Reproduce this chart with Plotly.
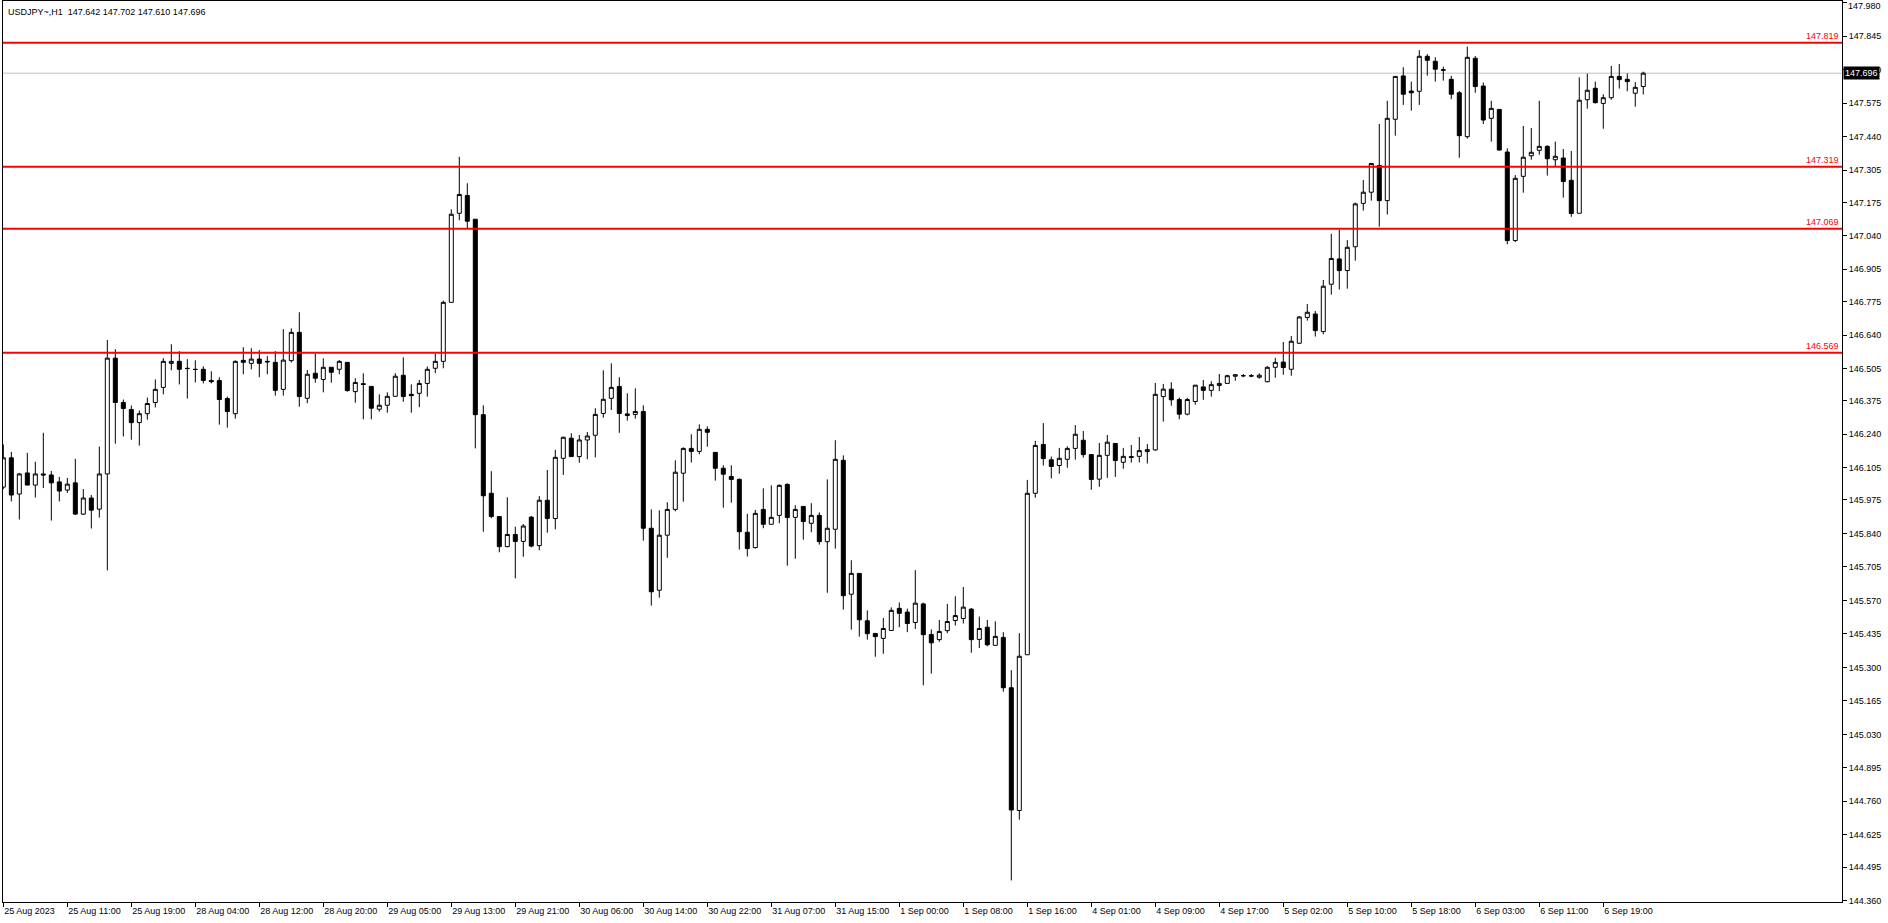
import plotly.graph_objects as go

# header of the chart window: symbol, period and OHLC of the last bar
chart_title = "USDJPY~,H1\u00a0\u00a0147.642 147.702 147.610 147.696"

# hourly bars, oldest first
opens = [
    146.027, 146.145, 145.999, 146.084, 146.035, 146.080, 146.076, 146.048, 146.015, 146.044,
    145.918, 145.983, 145.938, 146.080, 146.547, 146.368, 146.340, 146.287, 146.323, 146.368,
    146.429, 146.526, 146.534, 146.506, 146.502, 146.502, 146.457, 146.457, 146.384, 146.323,
    146.538, 146.526, 146.543, 146.534, 146.530, 146.421, 146.537, 146.651, 146.385, 146.486,
    146.461, 146.510, 146.502, 146.530, 146.412, 146.444, 146.433, 146.341, 146.357, 146.393,
    146.478, 146.401, 146.405, 146.445, 146.506, 146.534, 146.772, 147.131, 147.203, 147.107,
    146.319, 146.002, 145.908, 145.787, 145.836, 145.808, 145.906, 145.791, 145.974, 145.900,
    146.143, 146.224, 146.150, 146.217, 146.236, 146.324, 146.385, 146.433, 146.322, 146.320,
    146.332, 145.861, 145.611, 145.833, 145.937, 146.083, 146.183, 146.171, 146.260, 146.167,
    146.103, 146.070, 146.058, 145.845, 145.783, 145.937, 145.877, 145.913, 146.038, 145.905,
    145.949, 145.881, 145.913, 145.807, 145.857, 146.135, 145.595, 145.679, 145.488, 145.437,
    145.417, 145.449, 145.538, 145.523, 145.481, 145.556, 145.433, 145.412, 145.448, 145.489,
    145.497, 145.535, 145.413, 145.462, 145.389, 145.421, 145.218, 144.723, 145.351, 146.002,
    146.199, 146.137, 146.114, 146.139, 146.183, 146.216, 146.158, 146.059, 146.155, 146.203,
    146.127, 146.150, 146.151, 146.170, 146.177, 146.392, 146.422, 146.380, 146.321, 146.372,
    146.431, 146.417, 146.437, 146.445, 146.474, 146.476, 146.476, 146.470, 146.452, 146.510,
    146.531, 146.502, 146.607, 146.711, 146.725, 146.654, 146.845, 146.947, 146.900, 146.996,
    147.171, 147.216, 147.324, 147.182, 147.510, 147.685, 147.624, 147.623, 147.764, 147.744,
    147.710, 147.671, 147.617, 147.440, 147.756, 147.644, 147.514, 147.550, 147.378, 147.021,
    147.280, 147.363, 147.385, 147.401, 147.347, 147.354, 147.264, 147.131, 147.589, 147.635,
    147.574, 147.597, 147.683, 147.671, 147.615, 147.642,
]
highs = [
    146.199, 146.169, 146.084, 146.165, 146.129, 146.246, 146.092, 146.068, 146.064, 146.141,
    146.019, 145.995, 146.190, 146.620, 146.583, 146.380, 146.356, 146.336, 146.388, 146.461,
    146.547, 146.603, 146.575, 146.543, 146.538, 146.514, 146.494, 146.470, 146.392, 146.538,
    146.591, 146.587, 146.579, 146.555, 146.575, 146.664, 146.667, 146.732, 146.499, 146.565,
    146.546, 146.510, 146.539, 146.530, 146.466, 146.486, 146.433, 146.401, 146.409, 146.486,
    146.550, 146.441, 146.459, 146.513, 146.565, 146.779, 147.147, 147.359, 147.252, 147.107,
    146.357, 146.091, 145.908, 145.986, 145.867, 145.878, 145.910, 145.991, 146.096, 146.177,
    146.230, 146.244, 146.237, 146.249, 146.345, 146.498, 146.526, 146.470, 146.405, 146.425,
    146.357, 145.937, 145.933, 145.966, 146.135, 146.187, 146.240, 146.280, 146.272, 146.167,
    146.115, 146.115, 146.062, 145.919, 145.935, 146.022, 146.034, 146.038, 146.042, 145.954,
    145.949, 145.962, 145.925, 146.058, 146.216, 146.155, 145.732, 145.679, 145.530, 145.437,
    145.499, 145.542, 145.562, 145.537, 145.692, 145.561, 145.453, 145.491, 145.556, 145.587,
    145.624, 145.539, 145.505, 145.491, 145.486, 145.442, 145.289, 145.438, 146.056, 146.213,
    146.285, 146.150, 146.185, 146.191, 146.277, 146.253, 146.158, 146.205, 146.237, 146.203,
    146.185, 146.197, 146.229, 146.201, 146.447, 146.443, 146.450, 146.388, 146.387, 146.438,
    146.459, 146.454, 146.483, 146.480, 146.483, 146.483, 146.483, 146.486, 146.515, 146.548,
    146.612, 146.636, 146.717, 146.765, 146.737, 146.862, 147.048, 147.065, 147.023, 147.174,
    147.265, 147.332, 147.491, 147.585, 147.683, 147.720, 147.662, 147.789, 147.773, 147.760,
    147.722, 147.685, 147.624, 147.803, 147.765, 147.658, 147.585, 147.550, 147.393, 147.285,
    147.483, 147.475, 147.585, 147.405, 147.420, 147.390, 147.382, 147.679, 147.694, 147.662,
    147.611, 147.725, 147.733, 147.695, 147.660, 147.702,
]
lows = [
    146.019, 145.969, 145.896, 146.035, 145.985, 146.023, 145.892, 145.969, 146.003, 145.914,
    145.914, 145.860, 145.904, 145.691, 146.202, 146.231, 146.218, 146.194, 146.299, 146.348,
    146.401, 146.498, 146.441, 146.384, 146.449, 146.445, 146.445, 146.279, 146.267, 146.303,
    146.482, 146.502, 146.470, 146.482, 146.396, 146.396, 146.529, 146.351, 146.365, 146.448,
    146.409, 146.448, 146.482, 146.412, 146.367, 146.300, 146.300, 146.331, 146.327, 146.393,
    146.371, 146.327, 146.349, 146.392, 146.486, 146.506, 146.772, 147.103, 147.070, 146.183,
    145.847, 145.901, 145.764, 145.784, 145.659, 145.746, 145.784, 145.772, 145.843, 145.857,
    146.076, 146.150, 146.125, 146.139, 146.147, 146.307, 146.338, 146.246, 146.295, 146.303,
    145.811, 145.549, 145.581, 145.742, 145.929, 145.968, 146.126, 146.159, 146.190, 146.053,
    145.944, 145.964, 145.775, 145.747, 145.779, 145.861, 145.877, 145.881, 145.710, 145.738,
    145.815, 145.845, 145.795, 145.601, 145.779, 145.533, 145.452, 145.424, 145.412, 145.343,
    145.355, 145.449, 145.462, 145.442, 145.455, 145.228, 145.275, 145.403, 145.438, 145.469,
    145.477, 145.359, 145.378, 145.385, 145.389, 145.202, 144.441, 144.686, 145.351, 145.984,
    146.114, 146.062, 146.081, 146.105, 146.138, 146.146, 146.016, 146.028, 146.064, 146.068,
    146.101, 146.126, 146.126, 146.122, 146.173, 146.291, 146.355, 146.300, 146.316, 146.359,
    146.379, 146.392, 146.414, 146.445, 146.456, 146.470, 146.470, 146.464, 146.449, 146.468,
    146.480, 146.476, 146.604, 146.698, 146.634, 146.643, 146.803, 146.824, 146.827, 146.940,
    147.142, 147.182, 147.077, 147.126, 147.444, 147.568, 147.545, 147.568, 147.686, 147.662,
    147.666, 147.591, 147.355, 147.432, 147.617, 147.491, 147.420, 147.384, 147.006, 147.015,
    147.214, 147.347, 147.367, 147.283, 147.320, 147.194, 147.117, 147.131, 147.553, 147.574,
    147.472, 147.589, 147.634, 147.623, 147.561, 147.610,
]
closes = [
    146.145, 145.995, 146.080, 146.035, 146.080, 146.076, 146.044, 146.011, 146.039, 145.918,
    145.983, 145.934, 146.080, 146.547, 146.368, 146.344, 146.287, 146.323, 146.364, 146.421,
    146.534, 146.534, 146.502, 146.505, 146.501, 146.457, 146.452, 146.380, 146.332, 146.534,
    146.530, 146.543, 146.526, 146.532, 146.417, 146.539, 146.651, 146.392, 146.482, 146.466,
    146.510, 146.490, 146.534, 146.416, 146.449, 146.441, 146.345, 146.357, 146.393, 146.474,
    146.392, 146.396, 146.445, 146.502, 146.534, 146.772, 147.127, 147.207, 147.099, 146.319,
    145.992, 145.908, 145.787, 145.836, 145.808, 145.870, 145.789, 145.974, 145.900, 146.147,
    146.228, 146.150, 146.217, 146.233, 146.320, 146.381, 146.429, 146.324, 146.316, 146.332,
    145.861, 145.605, 145.833, 145.937, 146.087, 146.183, 146.171, 146.260, 146.248, 146.103,
    146.079, 146.058, 145.847, 145.779, 145.921, 145.877, 145.905, 146.034, 145.904, 145.937,
    145.888, 145.913, 145.807, 145.861, 146.139, 145.589, 145.679, 145.492, 145.436, 145.424,
    145.457, 145.530, 145.518, 145.477, 145.559, 145.432, 145.399, 145.445, 145.485, 145.509,
    145.543, 145.412, 145.457, 145.391, 145.425, 145.218, 144.725, 145.345, 146.002, 146.195,
    146.142, 146.110, 146.143, 146.183, 146.240, 146.158, 146.058, 146.155, 146.208, 146.134,
    146.151, 146.147, 146.174, 146.178, 146.401, 146.422, 146.379, 146.321, 146.380, 146.438,
    146.417, 146.440, 146.445, 146.476, 146.480, 146.476, 146.475, 146.478, 146.510, 146.530,
    146.509, 146.615, 146.713, 146.732, 146.658, 146.837, 146.949, 146.900, 146.994, 147.169,
    147.216, 147.332, 147.182, 147.514, 147.683, 147.611, 147.617, 147.764, 147.748, 147.712,
    147.708, 147.611, 147.444, 147.760, 147.642, 147.507, 147.554, 147.386, 147.021, 147.272,
    147.357, 147.377, 147.401, 147.351, 147.361, 147.259, 147.130, 147.587, 147.627, 147.577,
    147.597, 147.683, 147.670, 147.662, 147.639, 147.696,
]

# time scale labels, one every 8 bars
time_labels = [
    "25 Aug 2023", "25 Aug 11:00", "25 Aug 19:00", "28 Aug 04:00", "28 Aug 12:00",
    "28 Aug 20:00", "29 Aug 05:00", "29 Aug 13:00", "29 Aug 21:00", "30 Aug 06:00",
    "30 Aug 14:00", "30 Aug 22:00", "31 Aug 07:00", "31 Aug 15:00", "1 Sep 00:00",
    "1 Sep 08:00", "1 Sep 16:00", "4 Sep 01:00", "4 Sep 09:00", "4 Sep 17:00",
    "5 Sep 02:00", "5 Sep 10:00", "5 Sep 18:00", "6 Sep 03:00", "6 Sep 11:00",
    "6 Sep 19:00",
]
label_step = 8

# price scale labels
price_ticks = [
    147.980, 147.845, 147.710, 147.575, 147.440, 147.305, 147.175, 147.040, 146.905, 146.775,
    146.640, 146.505, 146.375, 146.240, 146.105, 145.975, 145.840, 145.705, 145.570, 145.435,
    145.300, 145.165, 145.030, 144.895, 144.760, 144.625, 144.495, 144.360,
]

# horizontal levels drawn on the chart and the current bid
levels = [147.819, 147.319, 147.069, 146.569]
last_price = 147.696

bars = list(range(len(opens)))
FONT = "Liberation Sans, Arial, sans-serif"
y_top = 147.987

fig = go.Figure()
fig.add_trace(go.Candlestick(
    x=bars, open=opens, high=highs, low=lows, close=closes,
    increasing=dict(line=dict(color="black", width=1), fillcolor="white"),
    decreasing=dict(line=dict(color="black", width=1), fillcolor="black"),
    whiskerwidth=0, hoverinfo="skip", showlegend=False,
))

shapes = [dict(type="line", xref="paper", x0=0, x1=1, yref="y", y0=last_price, y1=last_price,
               line=dict(color="#c0c0c0", width=1), layer="below")]
annotations = []
for lv in levels:
    shapes.append(dict(type="line", xref="paper", x0=0, x1=1, yref="y", y0=lv, y1=lv,
                       line=dict(color="#ff0000", width=2), layer="above"))
    annotations.append(dict(x=1, xref="paper", xanchor="right", xshift=-1,
                            y=lv, yref="y", yanchor="bottom", yshift=0,
                            text=f"{lv:.3f}", showarrow=False,
                            font=dict(family=FONT, size=9, color="#ff0000")))

# price labels too close to the top edge are pushed down inside the window, like MT4 does
tick_text = []
for v in price_ticks:
    if y_top - v < 0.012:
        tick_text.append("")
        annotations.append(dict(x=1, xref="paper", xanchor="left", xshift=4,
                                y=v, yref="y", yanchor="top", yshift=4,
                                text=f"{v:.3f}", showarrow=False,
                                font=dict(family=FONT, size=9, color="black")))
    else:
        tick_text.append(f"{v:.3f}")

# current price box on the price scale
annotations.append(dict(x=1, xref="paper", xanchor="left", xshift=1,
                        y=last_price, yref="y", yanchor="middle",
                        text=f"{last_price:.3f}", showarrow=False, bgcolor="black",
                        borderpad=1, font=dict(family=FONT, size=9, color="white")))

annotations.append(dict(x=0, xref="paper", xanchor="left", xshift=3,
                        y=1, yref="paper", yanchor="top", yshift=-4,
                        text=chart_title, showarrow=False,
                        font=dict(family=FONT, size=9, color="black")))

fig.update_layout(
    width=1888, height=923,
    margin=dict(l=3, r=46, t=1, b=21),
    paper_bgcolor="white", plot_bgcolor="white",
    showlegend=False,
    boxgap=0.5, boxgroupgap=0,
    font=dict(family=FONT, size=9, color="black"),
    shapes=shapes, annotations=annotations,
    xaxis=dict(
        range=[-0.04, 229.84], rangeslider=dict(visible=False),
        tickmode="array",
        tickvals=[i * label_step for i in range(len(time_labels))],
        ticktext=time_labels,
        ticks="outside", ticklen=4, tickcolor="black", ticklabelposition="outside right",
        showline=True, linecolor="black", linewidth=1, mirror=True,
        showgrid=False, zeroline=False, automargin=False,
    ),
    yaxis=dict(
        side="right", range=[144.354, y_top],
        tickmode="array", tickvals=price_ticks, ticktext=tick_text,
        ticks="outside", ticklen=4, tickcolor="black",
        showline=True, linecolor="black", linewidth=1, mirror=True,
        showgrid=False, zeroline=False, automargin=False,
    ),
)

fig.write_html("out.html", config={"displayModeBar": False},
               post_script="document.body.style.margin='0';")
